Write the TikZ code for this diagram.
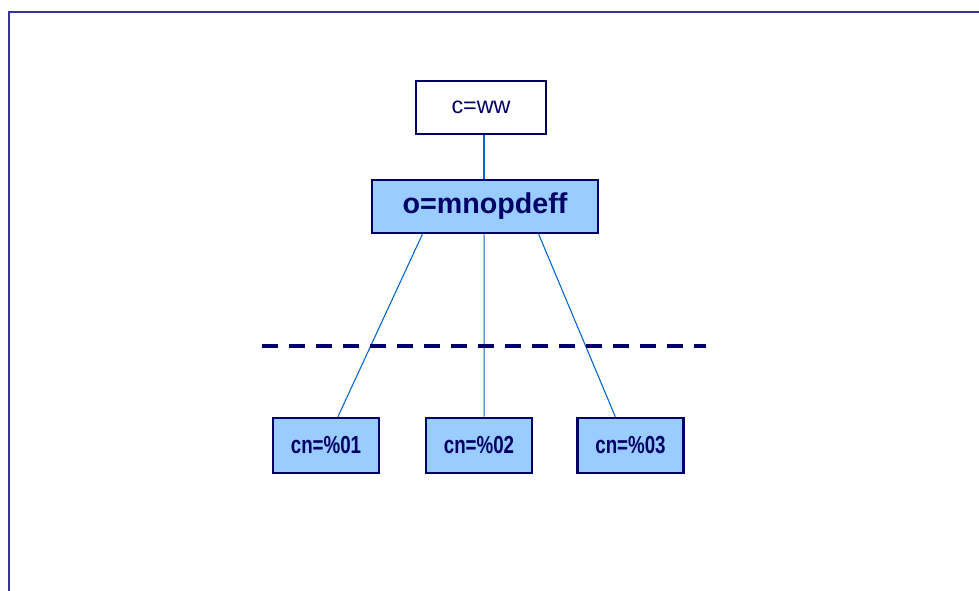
\documentclass[tikz,border=0pt]{standalone}
\usepackage{fontspec}
\setmainfont{Liberation Sans}
\newfontfamily\narrowfont[FakeStretch=0.76]{Liberation Sans}
\usetikzlibrary{calc}
\definecolor{navy}{HTML}{000066}
\definecolor{framecol}{HTML}{333399}
\definecolor{boxfill}{HTML}{99CCFF}
\definecolor{linkcol}{HTML}{0066CC}
\tikzstyle{rootbox}=[
  draw=navy,
  line width=1.9pt,
  fill=white,
  text=navy,
  minimum width=97.5pt,
  minimum height=39.75pt,
  font=\fontsize{17.5}{20}\selectfont
]
\tikzstyle{orgbox}=[
  draw=navy,
  line width=1.9pt,
  fill=boxfill,
  text=navy,
  minimum width=169.5pt,
  minimum height=39.75pt,
  font=\fontsize{21.5}{24}\selectfont\bfseries
]
\tikzstyle{entrybox}=[
  draw=navy,
  line width=1.9pt,
  fill=boxfill,
  text=navy,
  minimum width=79.5pt,
  minimum height=41.25pt,
  font=\fontsize{18.5}{20}\selectfont\narrowfont\bfseries
]
\tikzstyle{link}=[draw=linkcol, line width=0.8pt]

\begin{document}
\begin{tikzpicture}[x=0.75pt,y=-0.75pt]
          \useasboundingbox (0,0) rectangle (979,591);
          \def \yCn {445.5}

          % frame
          \draw[framecol, line width=1.3pt] (9,591) -- (9,12) -- (979,12);

          \node[rootbox] (root) at (481,107.5) {c=ww};
          \node[orgbox] (org) at (485,206.5) {o=mnopdeff};

          \node[entrybox] (cn1) at (326,\yCn) {cn=\%01};
          \node[entrybox] (cn2) at (479,\yCn) {cn=\%02};
          \node[entrybox] (cn3) at (630.5,\yCn) {cn=\%03};

          \coordinate (cutL) at (262,346.5);
          \coordinate (cutR) at (706,346.5);

          \draw[link] (root.south -| 484,0) -- (org.north -| 484,0);
          \foreach \i/\a/\b in {1/0.226/0.61, 2/0.496/0.547, 3/0.735/0.36}{
            \draw[link] ($(org.south west)!\a!(org.south east)$)
              -- ($(cn\i.north west)!\b!(cn\i.north east)$);
          }

          \draw[navy, line width=3pt, dash pattern=on 12pt off 8.25pt] (cutL) -- (cutR);
        \end{tikzpicture}
\end{document}
